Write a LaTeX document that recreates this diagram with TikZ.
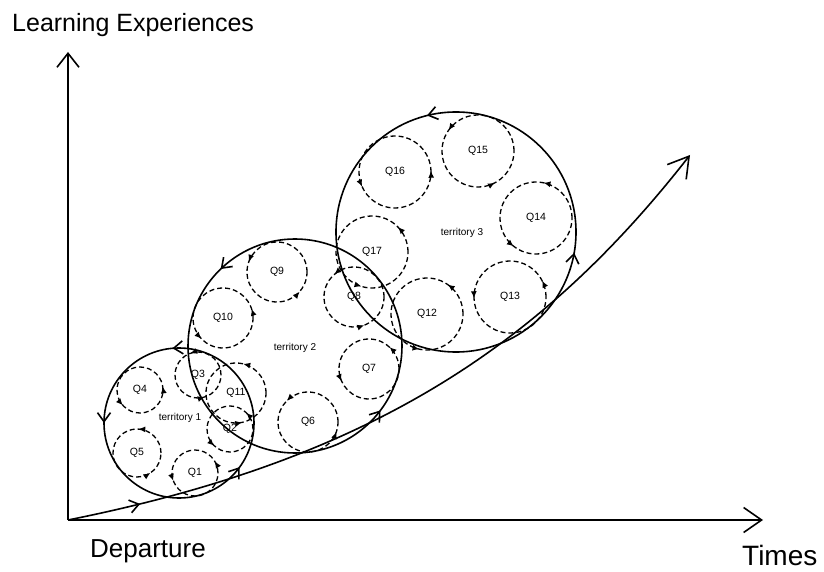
\documentclass[tikz,border=0pt]{standalone}
\usepackage{fontspec}
\setmainfont{Liberation Sans}
\usetikzlibrary{arrows.meta,decorations.markings}

% one dashed question loop: name, x, y, radius, angle of 1st and 2nd mark
\newcommand{\qloop}[6]{%
\draw[q loop, decoration={markings,
  mark=at position #5/360 with {\arrow{q tip}},
  mark=at position #6/360 with {\arrow{q tip}}}] (#2,#3) circle[radius=#4];
\node[q label] (#1) at (#2,#3) {#1};
}

\begin{document}
\begin{tikzpicture}[x=1pt, y=1pt,
  q tip/.tip={Latex[length=7pt,width=6pt]},
  t tip/.tip={Straight Barb[length=9pt,width=13pt]},
  axis tip/.tip={Straight Barb[length=18pt,width=25pt]},
  q loop/.style={draw, line width=1.3pt, dash pattern=on 5pt off 3pt, postaction=decorate},
  t loop/.style={draw, line width=1.6pt, postaction=decorate},
  q label/.style={font=\fontsize{10.5}{12}\selectfont, inner sep=0pt},
  t label/.style={font=\fontsize{10}{12}\selectfont, inner sep=0pt},
  axis label/.style={inner sep=0pt, anchor=base west}]
\useasboundingbox (0,0) rectangle (824,571);
%\draw[help lines] (0,0) grid[step=50] (824,571);

% axes
\begin{scope}[line width=1.6pt]
\coordinate (origin) at (68,51);
\coordinate (ytip) at (68,519);
\coordinate (xtip) at (763,51);
\coordinate (curveend) at (690,416);
\draw[-{Straight Barb[length=14pt,width=22pt]}] (origin) -- (ytip);
\draw[-{axis tip}] (origin) -- (xtip);
\draw[-{Straight Barb[length=20pt,width=24pt]}, postaction=decorate,
  decoration={markings, mark=at position 0.1 with {\arrow{t tip}}}]
  (origin) .. controls (368,111) and (540,224) .. (curveend);
\end{scope}

\begin{scope}[every node/.style={font=\fontsize{25}{30}\selectfont}]
\node[axis label] (ylabel) at (12,539) {Learning Experiences};
\node[axis label, font=\fontsize{26}{30}\selectfont] (departure) at (90,14) {Departure};
\node[axis label, font=\fontsize{28}{32}\selectfont] (times) at (742,6) {Times};
\end{scope}

% territories
\draw[t loop, decoration={markings, mark=at position 95/360 with {\arrow{t tip}},
  mark=at position 180/360 with {\arrow{t tip}}, mark=at position 324/360 with {\arrow{t tip}}}]
  (179,148) circle[radius=75];
\draw[t loop, decoration={markings, mark=at position 134/360 with {\arrow{t tip}},
  mark=at position 323/360 with {\arrow{t tip}}}]
  (295,225) circle[radius=107];
\draw[t loop, decoration={markings, mark=at position 104/360 with {\arrow{t tip}},
  mark=at position 350/360 with {\arrow{t tip}}}]
  (456,339) circle[radius=120];
\node[t label] (t1) at (180,153) {territory 1};
\node[t label] (t2) at (295,223) {territory 2};
\node[t label] (t3) at (462,338) {territory 3};

% questions
\qloop{Q1}{195}{98}{23}{31}{200}
\qloop{Q2}{230}{142}{23}{45}{227}
\qloop{Q3}{198}{196}{23}{110}{287}
\qloop{Q4}{140}{181}{23}{9}{222}
\qloop{Q5}{137}{118}{24}{87}{304}
\qloop{Q6}{308}{149}{30}{135}{341}
\qloop{Q7}{369}{202}{30}{47}{204}
\qloop{Q8}{354}{274}{30}{131}{290}
\qloop{Q9}{277}{299}{30}{160}{319}
\qloop{Q10}{223}{253}{30}{18}{224}
\qloop{Q11}{236}{178}{30}{76}{282}
\qloop{Q12}{427}{257}{36}{55}{258}
\qloop{Q13}{510}{274}{36}{27}{182}
\qloop{Q14}{536}{353}{36}{78}{232}
\qloop{Q15}{478}{420}{36}{145}{298}
\qloop{Q16}{395}{399}{36}{2}{204}
\qloop{Q17}{372}{319}{36}{44}{253}
\end{tikzpicture}
\end{document}
